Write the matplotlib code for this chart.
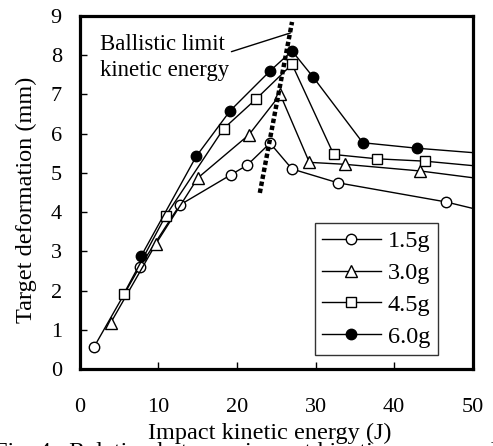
import matplotlib
matplotlib.use("Agg")
import matplotlib.pyplot as plt

plt.rcParams['font.family'] = ['Liberation Serif', 'DejaVu Serif']

# Data (impact kinetic energy J, target deformation mm)
e15 = [1.8, 7.6, 12.7, 19.2, 21.3, 24.2, 27.0, 32.8, 46.6, 53.0]
d15 = [0.56, 2.6, 4.18, 4.95, 5.2, 5.76, 5.1, 4.75, 4.26, 3.95]
e30 = [3.9, 9.7, 15.0, 21.5, 25.5, 29.2, 33.7, 43.3, 53.0]
d30 = [1.17, 3.2, 4.87, 5.97, 7.0, 5.27, 5.22, 5.05, 4.8]
e45 = [5.6, 10.9, 18.3, 22.4, 27.0, 32.3, 37.8, 43.9, 53.0]
d45 = [1.92, 3.9, 6.13, 6.88, 7.77, 5.47, 5.36, 5.3, 5.13]
e60 = [7.8, 14.8, 19.1, 24.2, 27.0, 29.7, 36.0, 42.9, 53.0]
d60 = [2.88, 5.42, 6.58, 7.6, 8.11, 7.44, 5.77, 5.63, 5.47]
labels = ['1.5g', '3.0g', '4.5g', '6.0g']

limit_e = [22.9, 27.0]
limit_d = [4.49, 8.85]

fig = plt.figure(figsize=(4.93, 4.46), dpi=100)
ax = fig.add_axes([0.162, 0.1726, 0.797, 0.7914])

fs_tick = 16
fs_lab = 17.5
fs_ann = 16.4

ax.plot(e15, d15, '-o', color='black', lw=1.0, ms=7.5, mfc='white', mec='black', mew=1.0, label=labels[0])
ax.plot(e30, d30, '-^', color='black', lw=1.0, ms=8.5, mfc='white', mec='black', mew=1.0, label=labels[1])
ax.plot(e45, d45, '-s', color='black', lw=1.0, ms=7.5, mfc='white', mec='black', mew=1.0, label=labels[2])
ax.plot(e60, d60, '-o', color='black', lw=1.0, ms=7.5, mfc='black', mec='black', mew=1.0, label=labels[3])

ax.plot(limit_e, limit_d, color='black', lw=3.2, linestyle=(0, (1.0, 0.6)), dash_capstyle='butt', zorder=4)

ax.annotate('Ballistic limit\nkinetic energy', xy=(26.8, 8.57), xytext=(2.5, 7.95),
            textcoords='data', fontsize=fs_ann, ha='left', va='center', linespacing=1.3,
            arrowprops=dict(arrowstyle='-', color='black', lw=1.0, shrinkA=0, shrinkB=0,
                            relpos=(1.0, 0.6)))

ax.set_xlim(0, 50)
ax.set_ylim(0, 9)
ax.set_xticks(range(0, 51, 10))
ax.set_yticks(range(0, 10, 1))
ax.tick_params(axis='both', direction='in', length=5, width=1, labelsize=fs_tick)
ax.tick_params(axis='x', pad=21)
ax.tick_params(axis='y', pad=13)
for s in ax.spines.values():
    s.set_linewidth(2.3)

ax.set_xlabel('Impact kinetic energy (J)', fontsize=fs_lab, labelpad=4, x=0.482)
ax.set_ylabel('Target deformation (mm)', fontsize=fs_lab, labelpad=10, y=0.479)

leg = ax.legend(loc='lower right', bbox_to_anchor=(0.911, 0.04), borderaxespad=0,
                fontsize=fs_lab, frameon=True, fancybox=False, edgecolor='black',
                handlelength=2.4, handletextpad=0.3, labelspacing=0.4, borderpad=0.3,
                numpoints=1)
leg.get_frame().set_linewidth(1.0)

fig.text(-0.012, -0.037, 'Fig. 4   Relation between impact kinetic energy and target deformation',
         fontsize=fs_lab, ha='left', va='bottom')

fig.savefig('out.png', dpi=100)
